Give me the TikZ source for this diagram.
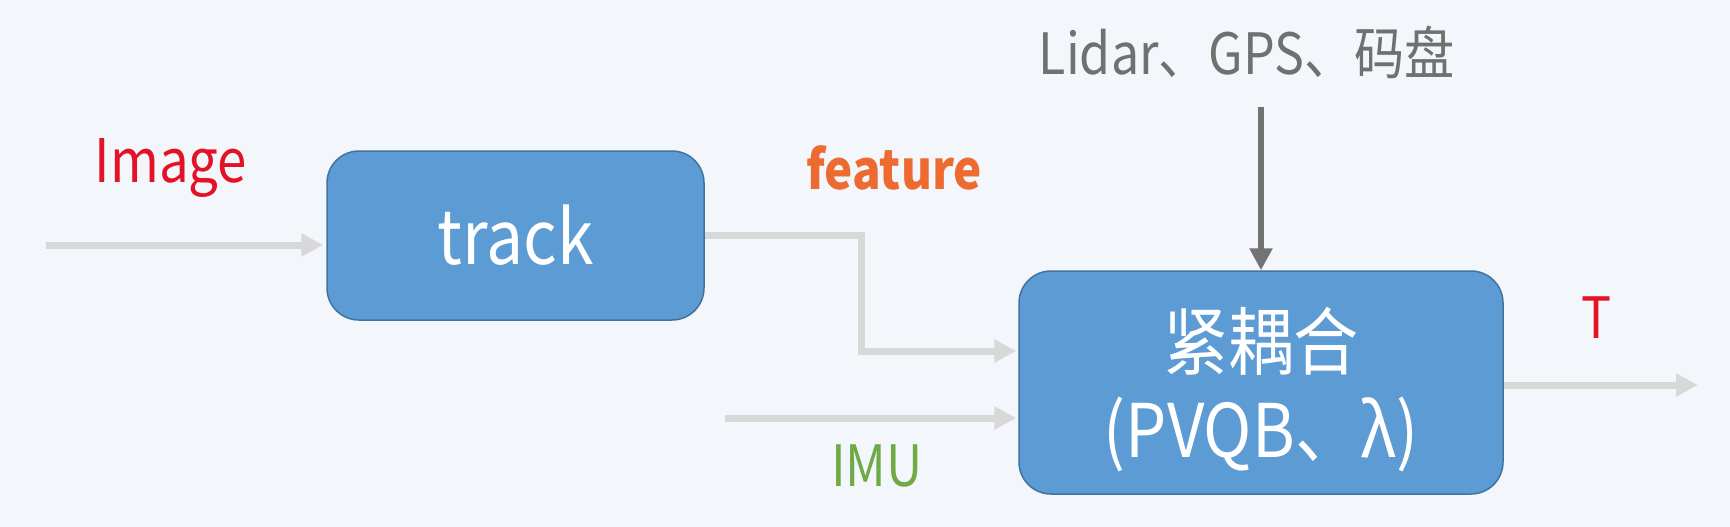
\documentclass[tikz,border=0pt]{standalone}
\usepackage{fontspec}
\setmainfont[FakeStretch=0.88]{Noto Sans CJK SC}
\usetikzlibrary{arrows.meta}
\definecolor{blockfill}{RGB}{93,155,212}
\definecolor{blockdraw}{RGB}{66,114,158}
\definecolor{linegray}{RGB}{216,216,216}
\definecolor{darkline}{RGB}{115,115,115}
\definecolor{bgcol}{RGB}{243,246,250}
\definecolor{imgred}{RGB}{228,18,38}
\definecolor{featorange}{RGB}{237,107,48}
\definecolor{imugreen}{RGB}{112,170,70}
\definecolor{textgray}{RGB}{112,112,112}

\begin{document}
\begin{tikzpicture}[x=1pt, y=-1pt,
                    block node/.style={draw=blockdraw, line width=1.5pt, fill=blockfill,
                                       rounded corners=32pt, text=white, align=center, inner sep=0pt},
                    label node/.style={inner sep=0pt, font=\fontsize{57}{66}\selectfont},
                    flow line/.style={draw=linegray, line width=7pt,
                                      -{Triangle[length=22pt,width=22pt]}},
                    input line/.style={draw=darkline, line width=5.5pt,
                                       -{Triangle[length=22pt,width=22pt]}}]

  % background
  \fill[bgcol] (0,0) rectangle (1730,527);
  \useasboundingbox (0,0) rectangle (1730,527);

  % blocks
  \node[block node, minimum width=377pt, minimum height=169pt,
        font=\fontsize{75}{90}\selectfont] (track) at (515.5,235.5) {track};
  \node[block node, minimum width=484pt, minimum height=223pt] (fusion) at (1261,382.5) {};
  \node[text=white, align=center, inner sep=0pt,
        font=\fontsize{74}{88}\selectfont] (fusion text) at (1261,390) {紧耦合\\(PVQB、λ)};

  % labels
  \node[label node, text=imgred, font=\fontsize{60}{70}\selectfont] (image) at (171,168) {Image};
  \node[label node, text=featorange, font=\fontsize{54}{64}\selectfont\bfseries] (feature) at (894,168) {feature};
  \node[label node, text=textgray] (sensors) at (1247,52) {Lidar、GPS、码盘};
  \node[label node, text=imgred] (T) at (1597,318) {T};
  \node[label node, text=imugreen] (imu) at (877,466) {IMU};

  % free ends
  \coordinate (imgin) at (46,245);
  \coordinate (imuin) at (725,418);
  \coordinate (tout) at (1698,385);
  \coordinate (sensin) at (1261,107);
  \coordinate (bend) at (861,351);

  % connectors
  \draw[flow line, shorten >=3pt] (imgin) -- (imgin -| track.west);
  \draw[flow line, shorten >=2pt] (track.east) -| (bend) -- (bend -| fusion.west);
  \draw[flow line, shorten >=2pt] (imuin) -- (imuin -| fusion.west);
  \draw[flow line] (fusion.east |- tout) -- (tout);
  \draw[input line] (sensin) -- (fusion.north);
\end{tikzpicture}
\end{document}
